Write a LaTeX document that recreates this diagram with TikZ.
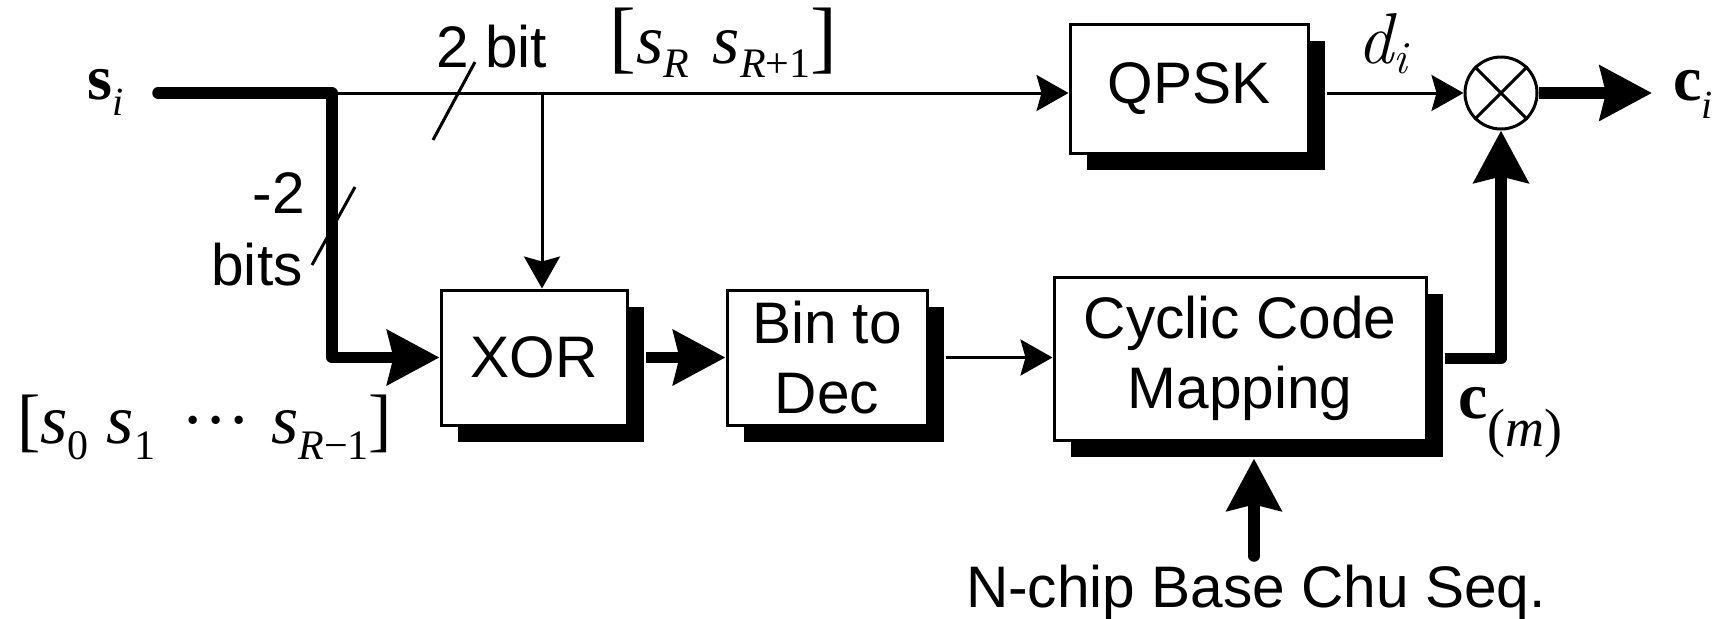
\documentclass[tikz,border=0pt]{standalone}
\usepackage{fontspec}
\setmainfont{Liberation Sans}
\newfontfamily\tnr{Liberation Serif}
\newfontfamily\lmr{Latin Modern Roman}
\usetikzlibrary{arrows.meta,shadows}
\newcommand\SB[3]{#1\raisebox{#3}{\fontsize{21}{21}\selectfont #2}}
\begin{document}
\begin{tikzpicture}[x=0.5pt,y=-0.5pt,
  txt/.style={font=\fontsize{29.3}{35}\selectfont, inner sep=0pt},
  blk/.style={draw, line width=1.5pt, fill=white, inner sep=0pt, align=center,
    font=\fontsize{29.3}{35}\selectfont,
    drop shadow={shadow xshift=8.5pt, shadow yshift=-8.5pt, fill=black, opacity=1}},
  thinw/.style={line width=1.5pt},
  thickw/.style={line width=5.75pt},
  sarr/.style={-{Stealth[length=16pt,width=18pt,inset=2.5pt]}},
  barr/.style={-{Stealth[length=26pt,width=27pt,inset=3pt]}},
  lab/.style={inner sep=0pt, anchor=base west}
]
\fill[white] (0,0) rectangle (1721,618);
\useasboundingbox (0,0) rectangle (1721,618);

% blocks
\node[blk, minimum width=93pt, minimum height=67.5pt] (xor) at (534,357.5) {XOR};
\node[blk, minimum width=100pt, minimum height=67.5pt] (b2d) at (827,357.5) {Bin to\\Dec};
\node[blk, minimum width=186pt, minimum height=81.5pt] (ccm) at (1240,358.5) {Cyclic Code\\Mapping};
\node[blk, minimum width=119pt, minimum height=64.5pt] (qpsk) at (1189,88.5) {QPSK};
\node[draw, circle, line width=1.5pt, minimum size=36pt, inner sep=0pt] (mul) at (1501,93) {};
\draw[thinw] (mul.north west) -- (mul.south east) (mul.north east) -- (mul.south west);

% coordinates
\coordinate (start) at (158,93);
\coordinate (j1) at (332,93);
\coordinate (j2) at (542,93);
\coordinate (c1) at (332,357.5);
\coordinate (qs) at ([xshift=8.5pt]qpsk.east);
\coordinate (xs) at ([xshift=8.5pt]xor.east);
\coordinate (bs) at ([xshift=8.5pt]b2d.east);
\coordinate (cs) at ([xshift=8.5pt]ccm.east);
\coordinate (c2) at (1501,358.5);
\coordinate (ns) at ([yshift=-8.5pt]ccm.south);
\coordinate (nb) at (1254,556);
\coordinate (out) at (1652,93);

% connectors
\draw[thickw, line cap=round, line join=round, barr] (start) -- (j1) -- (c1) -- (xor.west);
\draw[thinw, sarr] (j1) -- (j1 -| qpsk.west);
\draw[thinw, sarr] (j2) -- (j2 |- xor.north);
\draw[thickw, barr] (xs) -- (b2d.west);
\draw[thinw, sarr] (bs) -- (bs -| ccm.west);
\draw[thinw, sarr] (qs |- mul.west) -- (mul.west);
\draw[thickw, barr] (mul.east) -- (out);
\draw[thickw, line join=round, barr] (cs) -- (c2) -- (mul.south);
\draw[thickw, line cap=round, barr] (nb) -- (nb |- ns);

% bus slashes
\draw[thinw] (433,140) -- (475,62);
\draw[thinw] (312,265) -- (355,187);

% text labels
\node[txt, anchor=base west] (tb) at (436,67) {2 bit};
\node[txt, anchor=base east] (m2) at (305,213) {-2};
\node[txt, anchor=base east] (bits) at (303,285) {bits};
\node[txt, anchor=base] (nchip) at (1256,607) {N-chip Base Chu Seq.};

% math-like labels
\node[lab, font=\tnr] (si) at (87,99)
  {\fontsize{32}{32}\selectfont\bfseries s\raisebox{-8pt}{\fontsize{20}{20}\selectfont\mdseries\itshape i}};
\node[lab, font=\tnr] (ci) at (1673,100)
  {\fontsize{32}{32}\selectfont\bfseries c\raisebox{-9pt}{\fontsize{20}{20}\selectfont\mdseries\itshape i}};
\node[lab, font=\tnr] (cm) at (1458,418)
  {\fontsize{33}{33}\selectfont\bfseries c\raisebox{-14pt}{\fontsize{27}{27}\selectfont\mdseries(\itshape m\upshape)}};
\node[lab, font=\lmr] (di) at (1357,63)
  {\fontsize{36}{36}\selectfont\itshape d\raisebox{-5pt}{\fontsize{23}{23}\selectfont i}};
\node[lab, font=\tnr] (srr) at (609,63)
  {\fontsize{40}{40}\selectfont[\fontsize{35}{35}\selectfont\itshape\SB{s}{R}{-7pt}\hspace{12pt}\SB{s}{R\upshape+1}{-7pt}\upshape\fontsize{40}{40}\selectfont]};
\node[lab, font=\tnr] (s0) at (17,443)
  {\fontsize{35}{35}\selectfont[\itshape\SB{s}{\upshape 0}{-8pt}\hspace{9pt}\SB{s}{\upshape 1}{-8pt}\hspace{13pt}\upshape···\hspace{10pt}\itshape\SB{s}{R\upshape−1}{-8pt}\upshape]};
\end{tikzpicture}
\end{document}
